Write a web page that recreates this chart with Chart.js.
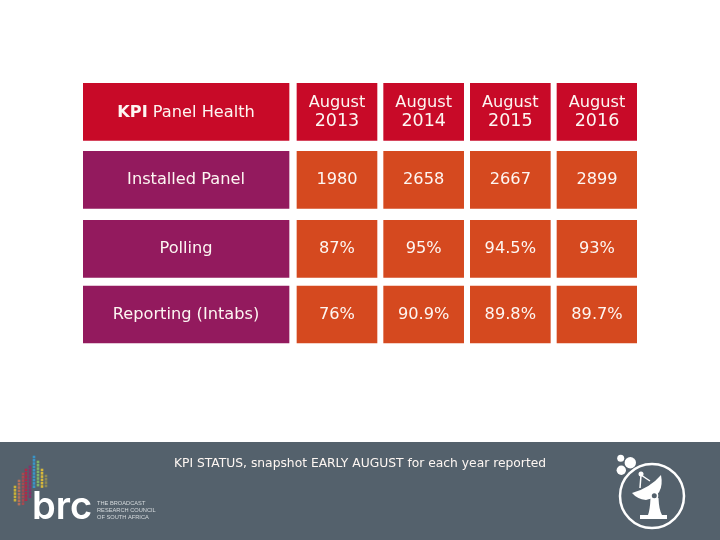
<!DOCTYPE html>
<html>
<head>
<meta charset="utf-8">
<script src="https://cdn.jsdelivr.net/npm/chart.js@4"></script>
<style>
  html, body { margin: 0; padding: 0; background: #fff; }
  #wrap { width: 720px; height: 540px; }
</style>
</head>
<body>
<div id="wrap"><canvas id="kpiChart" width="720" height="540"></canvas></div>
<script>
const rowLabels = ['KPI Panel Health', 'Installed Panel', 'Polling', 'Reporting (Intabs)'];
const months = ['August', 'August', 'August', 'August'];
const years = ['2013', '2014', '2015', '2016'];
const installedPanel = ['1980', '2658', '2667', '2899'];
const polling = ['87%', '95%', '94.5%', '93%'];
const reporting = ['76%', '90.9%', '89.8%', '89.7%'];
const caption = 'KPI STATUS, snapshot EARLY AUGUST for each year reported';

const tableRows = [months.map((m, i) => m + '\n' + years[i]), installedPanel, polling, reporting];

const RED = '#c80a28';
const PURPLE = '#931a5e';
const ORANGE = '#d5491f';
const BAND = '#54616c';
const TEXT = '#fdf6f2';
const FONT = '"DejaVu Sans", Verdana, sans-serif';
const SIZE = 16.2;

// label column sits left of 0, year columns are 0..3 on the x scale
const labelSpan = [-2.469, -0.092];
const cellWidth = 0.923;
// the rows of the slide are not quite evenly spaced
const rowSlots = [0, 1.005, 2.025, 2.995];

const datasets = [{
    label: 'Label',
    data: rowLabels.map((r, i) => ({ x: labelSpan, y: rowSlots[i] })),
    backgroundColor: [RED, PURPLE, PURPLE, PURPLE],
    cellText: rowLabels
}];
years.forEach((y, col) => {
    datasets.push({
        label: y,
        data: rowLabels.map((r, i) => ({ x: [col, col + cellWidth], y: rowSlots[i] })),
        backgroundColor: [RED, ORANGE, ORANGE, ORANGE],
        cellText: tableRows.map(r => r[col])
    });
});

// footer band behind everything
const bandPlugin = {
    id: 'band',
    beforeDraw(chart) {
        const c = chart.ctx;
        c.save();
        c.fillStyle = BAND;
        c.fillRect(0, 442, 720, 98);
        c.restore();
    }
};

// text in the cells, centred on each bar
const cellTextPlugin = {
    id: 'cellText',
    afterDatasetsDraw(chart) {
        const c = chart.ctx;
        c.save();
        c.fillStyle = TEXT;
        c.textBaseline = 'middle';
        chart.data.datasets.forEach((ds, d) => {
            chart.getDatasetMeta(d).data.forEach((bar, r) => {
                const p = bar.getCenterPoint();
                const txt = ds.cellText[r];
                c.textAlign = 'center';
                if (txt.startsWith('KPI ')) {
                    const rest = txt.slice(3);
                    c.font = 'bold ' + SIZE + 'px ' + FONT;
                    const w1 = c.measureText('KPI').width;
                    c.font = SIZE + 'px ' + FONT;
                    const w2 = c.measureText(rest).width;
                    c.textAlign = 'left';
                    c.font = 'bold ' + SIZE + 'px ' + FONT;
                    c.fillText('KPI', p.x - (w1 + w2) / 2, p.y + 0.5);
                    c.font = SIZE + 'px ' + FONT;
                    c.fillText(rest, p.x - (w1 + w2) / 2 + w1, p.y + 0.5);
                } else if (txt.includes('\n')) {
                    const parts = txt.split('\n');
                    c.font = SIZE + 'px ' + FONT;
                    c.fillText(parts[0], p.x, p.y - 9.5);
                    c.font = '17.5px ' + FONT;
                    c.fillText(parts[1], p.x, p.y + 9.5);
                } else {
                    c.font = SIZE + 'px ' + FONT;
                    c.fillText(txt, p.x, p.y);
                }
            });
        });
        c.restore();
    }
};

// rainbow dots of the logo: x, first y, last y, colour
const logoColumns = [
    [15, 487, 503, '#c9b13a'], [19, 481, 507, '#b5705a'], [23, 474, 504, '#a84a50'],
    [26, 470, 502, '#b02a48'], [30, 467, 498, '#8a2f6a'], [34, 457, 490, '#3a94c8'],
    [38, 462, 488, '#7db56a'], [42, 470, 487, '#d8b83a'], [46, 476, 486, '#8f8a55']
];

const logoPlugin = {
    id: 'logos',
    afterDraw(chart) {
        const c = chart.ctx;
        c.save();
        logoColumns.forEach(([x, top, bottom, col]) => {
            c.fillStyle = col;
            for (let y = top; y <= bottom; y += 3.3) {
                c.fillRect(x - 1.3, y - 1.3, 2.6, 2.6);
            }
        });
        c.fillStyle = '#fff';
        c.textBaseline = 'alphabetic';
        c.textAlign = 'left';
        c.font = '600 38px Inter, sans-serif';
        c.fillText('brc', 32, 519);
        c.fillStyle = '#d5dadd';
        c.font = '5.7px "Liberation Sans", sans-serif';
        c.fillText('THE BROADCAST', 97, 505);
        c.fillText('RESEARCH COUNCIL', 97, 512);
        c.fillText('OF SOUTH AFRICA', 97, 519);

        // dish icon
        c.fillStyle = '#fff';
        c.strokeStyle = '#fff';
        c.lineWidth = 2.5;
        c.beginPath();
        c.arc(652, 496, 32, 0, Math.PI * 2);
        c.stroke();
        [[620.7, 458.3, 3.5], [630.3, 462.7, 5.7], [621.3, 470.3, 4.7]].forEach(([x, y, r]) => {
            c.beginPath();
            c.arc(x, y, r, 0, Math.PI * 2);
            c.fill();
        });
        // bowl
        c.beginPath();
        c.moveTo(661, 475);
        c.quadraticCurveTo(665, 496, 646, 500);
        c.quadraticCurveTo(637, 499, 632, 493);
        c.quadraticCurveTo(650, 488, 661, 475);
        c.closePath();
        c.fill();
        // pedestal
        c.beginPath();
        c.moveTo(650.5, 498);
        c.lineTo(658.5, 498);
        c.quadraticCurveTo(659, 510, 662, 515);
        c.lineTo(667, 515);
        c.lineTo(667, 519);
        c.lineTo(640, 519);
        c.lineTo(640, 515);
        c.lineTo(648, 515);
        c.quadraticCurveTo(650, 510, 650.5, 498);
        c.closePath();
        c.fill();
        // feed arm
        c.lineWidth = 1.5;
        c.beginPath();
        c.moveTo(641, 475); c.lineTo(640, 488);
        c.moveTo(641, 475); c.lineTo(650, 481);
        c.stroke();
        c.beginPath();
        c.arc(641, 474, 2.5, 0, Math.PI * 2);
        c.fill();
        // ring on the pedestal
        c.beginPath();
        c.arc(654.3, 495.7, 4, 0, Math.PI * 2);
        c.fill();
        c.fillStyle = BAND;
        c.beginPath();
        c.arc(654.3, 495.7, 2.5, 0, Math.PI * 2);
        c.fill();
        c.restore();
    }
};

new Chart(document.getElementById('kpiChart'), {
    type: 'bar',
    data: { labels: rowLabels, datasets: datasets },
    plugins: [bandPlugin, cellTextPlugin, logoPlugin],
    options: {
        indexAxis: 'y',
        responsive: false,
        animation: false,
        layout: { padding: { left: 83, right: 83, top: 78, bottom: 68.6 } },
        datasets: { bar: { grouped: false, barThickness: 57, borderWidth: 0 } },
        scales: {
            x: { type: 'linear', min: -2.469, max: 3.923, display: false },
            y: { type: 'linear', min: -0.5, max: 3.5, reverse: true, offset: false, display: false }
        },
        plugins: {
            legend: { display: false },
            tooltip: { enabled: false },
            title: {
                display: true,
                text: caption,
                position: 'bottom',
                color: TEXT,
                font: { family: FONT, size: 12.3, weight: 'normal' },
                padding: { top: 108, bottom: 0 }
            }
        }
    }
});
</script>
</body>
</html>
